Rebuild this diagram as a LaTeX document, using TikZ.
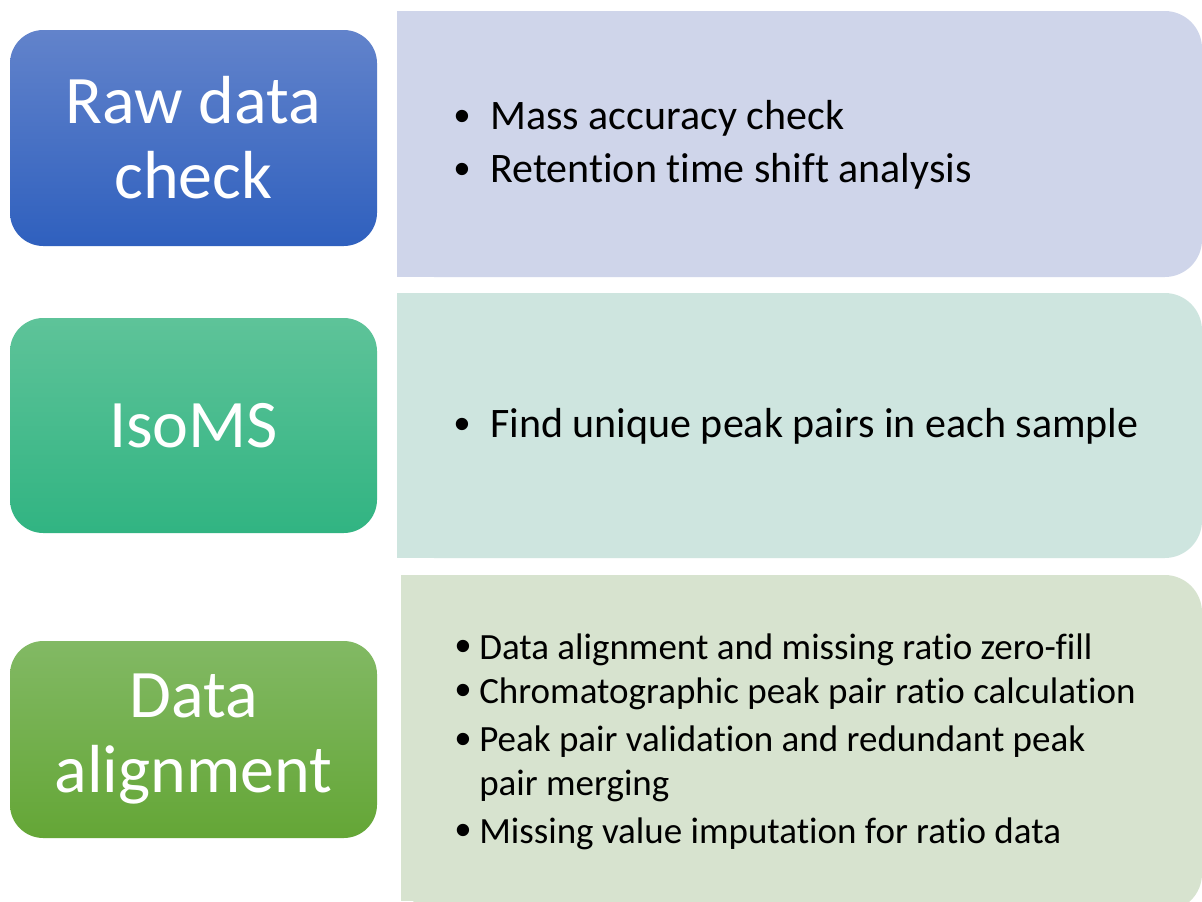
\documentclass[tikz,border=0pt]{standalone}
\usepackage{fontspec}
\setmainfont[Ligatures=NoCommon]{Carlito}
\newfontfamily\bulletfont{Liberation Sans}
\definecolor{rawtop}{RGB}{98,131,203}
\definecolor{rawbot}{RGB}{47,96,190}
\definecolor{isotop}{RGB}{94,195,153}
\definecolor{isobot}{RGB}{49,180,130}
\definecolor{alntop}{RGB}{130,185,100}
\definecolor{alnbot}{RGB}{100,166,54}
\definecolor{panelA}{RGB}{207,213,234}
\definecolor{panelB}{RGB}{206,229,223}
\definecolor{panelC}{RGB}{215,227,207}
\begin{document}
\begin{tikzpicture}[x=0.75pt,y=-0.75pt,
  stagebox/.style={rectangle, rounded corners=25pt, inner sep=0pt, align=center,
    text=white, font=\fontsize{51}{56.25}\selectfont, minimum width=275.25pt},
  itemtext/.style={anchor=base west, inner sep=0pt, align=left},
  bigitem/.style={itemtext, font=\fontsize{31.5}{39.75}\selectfont},
  smallitem/.style={itemtext, font=\fontsize{27.75}{32.5}\selectfont},
  dot/.style={anchor=base, inner sep=0pt, yshift=-1.5pt,
    font=\bulletfont\fontsize{34}{34}\selectfont},
  panel/.style={rounded corners=28pt}
]
\useasboundingbox[fill=white] (0,0) rectangle (1202,901);

% step panels: square on the left, rounded on the right
\fill[panelA, panel] (397,11) rectangle (1202,277);
\fill[panelA] (397,11) rectangle (460,277);
\fill[panelB, panel] (397,293) rectangle (1202,558);
\fill[panelB] (397,293) rectangle (460,558);
\fill[panelC, panel] (401,575) rectangle (1202,911);
\fill[panelC] (401,575) rectangle (460,901);

% stage boxes
\node[stagebox, minimum height=162pt, top color=rawtop, bottom color=rawbot]
  (raw) at (193.5,138) {Raw data\\check};
\node[stagebox, minimum height=161.25pt, top color=isotop, bottom color=isobot]
  (iso) at (193.5,425.5) {IsoMS};
\node[stagebox, minimum height=147.75pt, top color=alntop, bottom color=alnbot]
  (aln) at (193.5,739.5) {Data\\alignment};

% raw data check items
\node[dot] (ra) at (462,129) {•};
\node[bigitem] (rat) at (490,129) {Mass accuracy check};
\node[dot] (rb) at (462,182) {•};
\node[bigitem] (rbt) at (490,182) {Retention time shift analysis};

% IsoMS item
\node[dot] (ia) at (462,437) {•};
\node[bigitem] (iat) at (490,437) {Find unique peak pairs in each sample};

% data alignment items (a wrapped item sits on the baseline of its last line)
\node[dot] (aa) at (463,659) {•};
\node[smallitem] (aat) at (479,659) {Data alignment and missing ratio zero-fill};
\node[dot] (ab) at (463,703) {•};
\node[smallitem] (abt) at (479,703) {Chromatographic peak pair ratio calculation};
\node[dot] (ac) at (463,752) {•};
\node[smallitem] (act) at (479,795) {Peak pair validation and redundant peak\\pair merging};
\node[dot] (ad) at (463,843) {•};
\node[smallitem] (adt) at (479,843) {Missing value imputation for ratio data};
\end{tikzpicture}
\end{document}
